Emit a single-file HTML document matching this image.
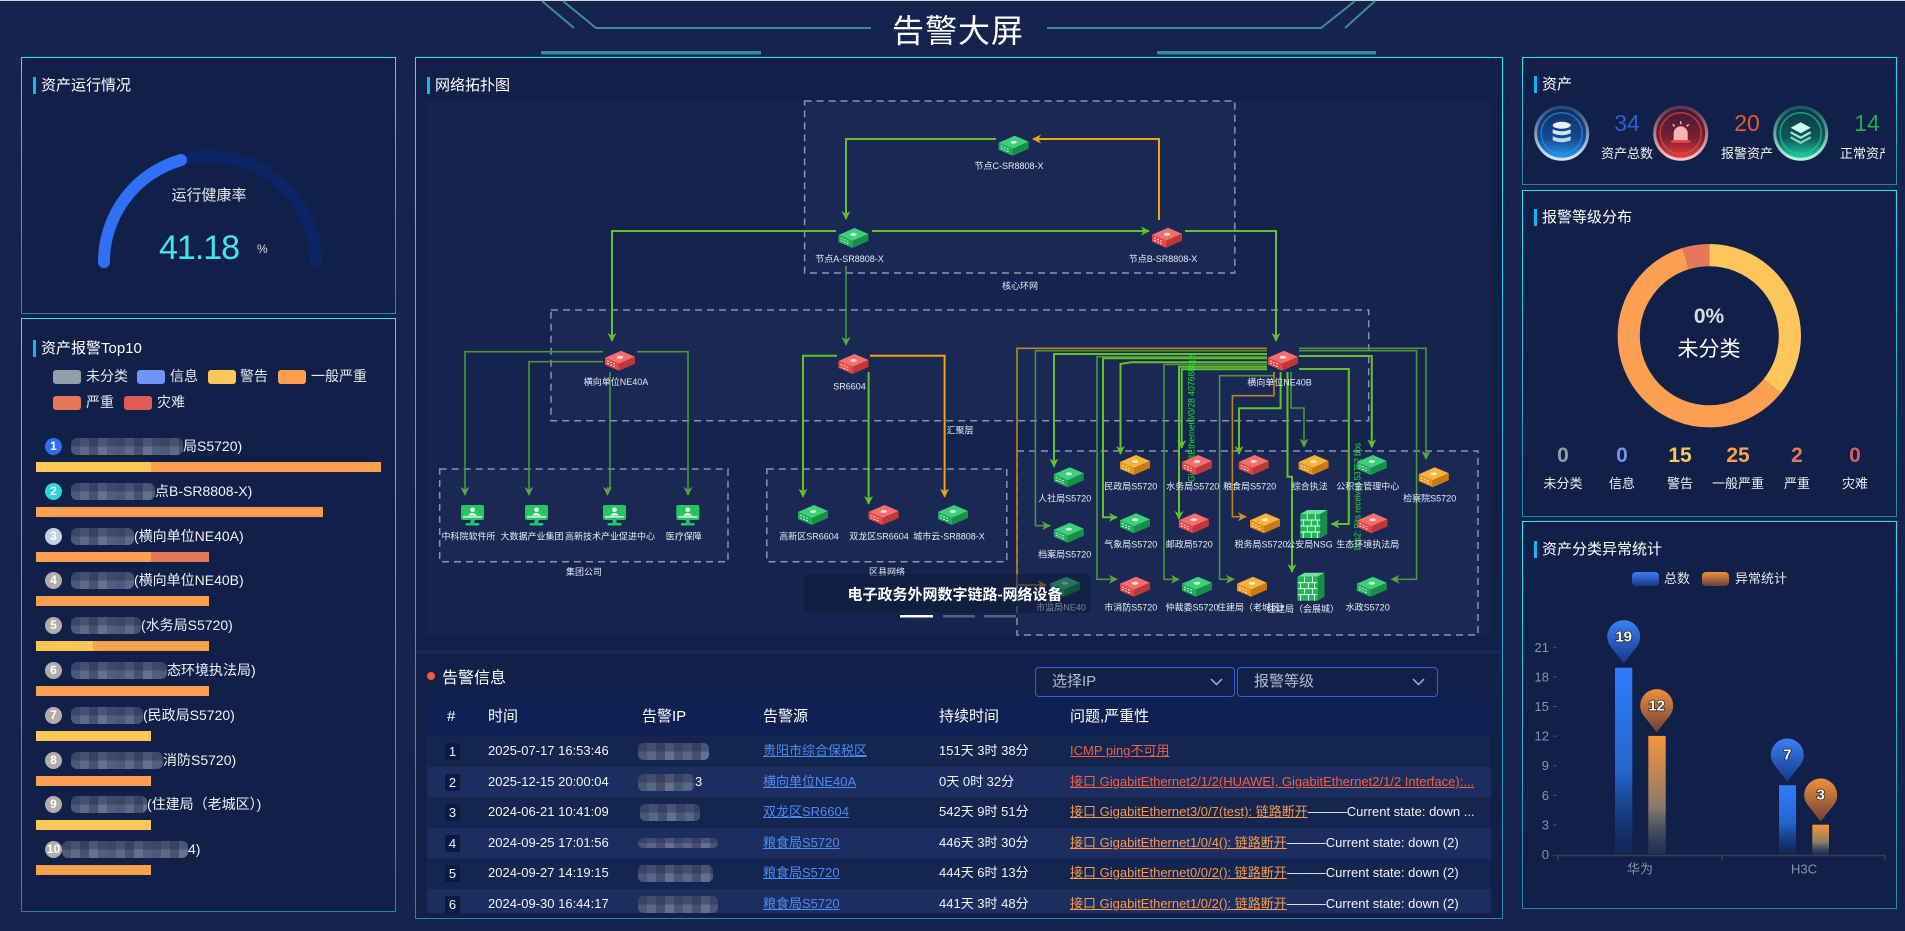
<!DOCTYPE html>
<html><head><meta charset="utf-8"><title>告警大屏</title>
<style>
*{box-sizing:border-box;margin:0;padding:0}
html,body{width:1905px;height:931px;overflow:hidden}
body{background:#14244e;font-family:"Liberation Sans","Noto Sans CJK SC",sans-serif;color:#fff;position:relative}
.a{position:absolute;white-space:nowrap}
.panel{position:absolute;background:#112048;border:1px solid #1fe0ea;border-image:linear-gradient(to bottom,#22e8f0,#2a86a8) 1}
.pt{position:absolute;font-size:15px;line-height:17px;height:17px;padding-left:5px;border-left:3px solid #13b6f4;white-space:nowrap;color:#fff}
.sw{position:absolute;width:28px;height:14px;border-radius:3px}
.lg{position:absolute;font-size:14px;line-height:16px;color:#e4e8f0;white-space:nowrap}
.bd{position:absolute;width:17px;height:17px;border-radius:50%;font-size:12px;font-weight:bold;line-height:17px;text-align:center;color:#fff}
.bl{position:absolute;height:17px;border-radius:6px;background:linear-gradient(to bottom,rgba(25,35,70,.35) 50%,rgba(0,0,0,0) 50%),repeating-linear-gradient(90deg,#4d5979 0 9px,#5e6989 9px 18px,#46526f 18px 27px,#66718f 27px 36px,#525e7e 36px 45px)}
.tl{position:absolute;font-size:14px;line-height:18px;color:#f0f2f6;white-space:nowrap}
.bar{position:absolute;height:10px}
.row{position:absolute;left:427px;width:1064px;height:31px;font-size:13px;line-height:30px;color:#f2f4f8}
.row .c{position:absolute;top:0;white-space:nowrap}
.row .ix{position:absolute;left:18px;top:7px;width:15px;height:17px;line-height:17px;text-align:center;background:#0b1a42;border-radius:2px}
.row .ip{position:absolute;top:7px;height:17px;border-radius:5px;background:linear-gradient(to bottom,rgba(30,40,80,.4) 50%,rgba(0,0,0,0) 50%),repeating-linear-gradient(90deg,#4a5676 0 9px,#5a6686 9px 18px,#44506f 18px 27px,#65708f 27px 36px)}
.lnk{color:#4b8bf5;text-decoration:underline}
.iss{position:absolute;left:643px;top:0;width:410px;overflow:hidden;white-space:nowrap;text-overflow:ellipsis}
.red{color:#ee6242;text-decoration:underline}
.org{color:#f8994c;text-decoration:underline}
.hd{position:absolute;top:0;font-size:15px;line-height:39px;color:#fff}
.st{position:absolute;text-align:center;width:60px}
.stn{font-size:21px;font-weight:bold;line-height:24px}
.stl{font-size:13px;line-height:16px;color:#f0f0f0}
</style></head><body>

<!-- panels -->
<div class="panel" style="left:21px;top:57px;width:375px;height:257px"></div>
<div class="panel" style="left:21px;top:318px;width:375px;height:594px"></div>
<div class="panel" style="left:415px;top:57px;width:1088px;height:862px"></div>
<div class="panel" style="left:1522px;top:57px;width:375px;height:128px"></div>
<div class="panel" style="left:1522px;top:190px;width:375px;height:327px"></div>
<div class="panel" style="left:1522px;top:521px;width:375px;height:388px"></div>
<div class="a" style="left:416px;top:650px;width:1086px;height:4px;background:#182958"></div>

<svg class="a" style="left:0;top:0" width="1905" height="931" viewBox="0 0 1905 931">
<defs>
<marker id="ag" viewBox="0 0 10 10" refX="9" refY="5" markerWidth="9" markerHeight="9" markerUnits="userSpaceOnUse" orient="auto"><path d="M0,0 L10,5 L0,10 L3,5Z" fill="#63c22c"/></marker>
<marker id="ad" viewBox="0 0 10 10" refX="9" refY="5" markerWidth="9" markerHeight="9" markerUnits="userSpaceOnUse" orient="auto"><path d="M0,0 L10,5 L0,10 L3,5Z" fill="#5aa83a"/></marker>
<marker id="ao" viewBox="0 0 10 10" refX="9" refY="5" markerWidth="9" markerHeight="9" markerUnits="userSpaceOnUse" orient="auto"><path d="M0,0 L10,5 L0,10 L3,5Z" fill="#f2a212"/></marker>
<marker id="ab" viewBox="0 0 10 10" refX="9" refY="5" markerWidth="9" markerHeight="9" markerUnits="userSpaceOnUse" orient="auto"><path d="M0,0 L10,5 L0,10 L3,5Z" fill="#d0922c"/></marker>
<g id="rg">
<path d="M-15,-3 L1,-10 L15,-4 L-1,3Z" fill="#3fcf7c"/>
<path d="M-15,-3 L-1,3 L-1,10 L-15,4Z" fill="#22ad5c"/>
<path d="M-1,3 L15,-4 L15,3 L-1,10Z" fill="#178f48"/>
<path d="M-13,0.5h2M-10,1.8h2M-7,3.1h2M-13,3h2M-10,4.3h2M-7,5.6h2" stroke="#e8fff0" stroke-width="0.8"/>
<ellipse cx="0" cy="-3.5" rx="3.2" ry="1.5" fill="#e8fff0" opacity=".85"/>
</g>
<g id="rr">
<path d="M-15,-3 L1,-10 L15,-4 L-1,3Z" fill="#f46e6e"/>
<path d="M-15,-3 L-1,3 L-1,10 L-15,4Z" fill="#e04a4a"/>
<path d="M-1,3 L15,-4 L15,3 L-1,10Z" fill="#bf3838"/>
<path d="M-13,0.5h2M-10,1.8h2M-7,3.1h2M-13,3h2M-10,4.3h2M-7,5.6h2" stroke="#fff0f0" stroke-width="0.8"/>
<ellipse cx="0" cy="-3.5" rx="3.2" ry="1.5" fill="#fff0f0" opacity=".85"/>
</g>
<g id="ro">
<path d="M-15,-3 L1,-10 L15,-4 L-1,3Z" fill="#f8b33c"/>
<path d="M-15,-3 L-1,3 L-1,10 L-15,4Z" fill="#e8941e"/>
<path d="M-1,3 L15,-4 L15,3 L-1,10Z" fill="#c97a12"/>
<path d="M-13,0.5h2M-10,1.8h2M-7,3.1h2M-13,3h2M-10,4.3h2M-7,5.6h2" stroke="#fff6e0" stroke-width="0.8"/>
<ellipse cx="0" cy="-3.5" rx="3.2" ry="1.5" fill="#fff6e0" opacity=".85"/>
</g>
<g id="mon">
<rect x="-11.5" y="0" width="23" height="15" rx="2" fill="#27c462"/>
<circle cx="0" cy="4.8" r="2.3" fill="#fff"/>
<path d="M-4.5,10.5 Q0,5.5 4.5,10.5Z" fill="#fff"/>
<rect x="-9.5" y="11.3" width="19" height="1.2" fill="#fff"/>
<rect x="-2" y="15" width="4" height="3" fill="#27c462"/>
<rect x="-7" y="18" width="14" height="2.5" rx="1" fill="#27c462"/>
</g>
<g id="fw">
<path d="M-13,-10 L-6,-14 L14,-14 L7,-10Z" fill="#6ee49a"/>
<rect x="-13" y="-10" width="20" height="24" fill="#22b85a"/>
<path d="M7,-10 L14,-14 L14,10 L7,14Z" fill="#178f48"/>
<path d="M-13,-4H7M-13,2H7M-13,8H7M-6,-10V-4M2,-10V-4M-10,-4V2M-2,-4V2M4,-4V2M-6,2V8M2,2V8M-10,8V14M-2,8V14M4,8V14" stroke="#eafff0" stroke-width="0.9" fill="none"/>
</g>
<linearGradient id="bbar" x1="0" y1="0" x2="0" y2="1"><stop offset="0" stop-color="#2f7cfb"/><stop offset="0.55" stop-color="#2466cc"/><stop offset="1" stop-color="#10306e" stop-opacity="0.4"/></linearGradient>
<linearGradient id="obar" x1="0" y1="0" x2="0" y2="1"><stop offset="0" stop-color="#f7963a"/><stop offset="0.6" stop-color="#8a7a6a"/><stop offset="1" stop-color="#2c3c62" stop-opacity="0.5"/></linearGradient>
<linearGradient id="bpin" x1="0" y1="0" x2="0" y2="1"><stop offset="0" stop-color="#3a80f2"/><stop offset="1" stop-color="#163888"/></linearGradient>
<linearGradient id="opin" x1="0" y1="0" x2="0" y2="1"><stop offset="0" stop-color="#f0903a"/><stop offset="1" stop-color="#6a4038"/></linearGradient>
<linearGradient id="bIn" x1="0" y1="0" x2="0" y2="1"><stop offset="0" stop-color="#0f2c5c"/><stop offset="0.6" stop-color="#144a90"/><stop offset="1" stop-color="#2aa0f0"/></linearGradient>
<linearGradient id="bRim" x1="0" y1="0" x2="0" y2="1"><stop offset="0" stop-color="#2a4a80"/><stop offset="1" stop-color="#d8e6f6"/></linearGradient>
<linearGradient id="rIn" x1="0" y1="0" x2="0" y2="1"><stop offset="0" stop-color="#3a1a34"/><stop offset="0.6" stop-color="#7a2030"/><stop offset="1" stop-color="#f04040"/></linearGradient>
<linearGradient id="rRim" x1="0" y1="0" x2="0" y2="1"><stop offset="0" stop-color="#6a3450"/><stop offset="1" stop-color="#f4c8c8"/></linearGradient>
<linearGradient id="gIn" x1="0" y1="0" x2="0" y2="1"><stop offset="0" stop-color="#0c3446"/><stop offset="0.6" stop-color="#0f5a58"/><stop offset="1" stop-color="#22d8a8"/></linearGradient>
<linearGradient id="gRim" x1="0" y1="0" x2="0" y2="1"><stop offset="0" stop-color="#1a5a62"/><stop offset="1" stop-color="#b8f4e4"/></linearGradient>
</defs>

<!-- header -->
<line x1="0" y1="0.5" x2="1905" y2="0.5" stroke="#cfd3da" stroke-width="1"/>
<g stroke="#3c8c9e" stroke-width="2" fill="none">
<path d="M542,1 L574,28"/>
<path d="M563,1 L596,28 H871"/>
<path d="M1047,28 H1321 L1355,1"/>
<path d="M1345,28 L1375,1"/>
</g>
<rect x="541" y="51" width="220" height="3.5" fill="#3a8a9c"/>
<rect x="1157" y="51" width="219" height="3.5" fill="#3a8a9c"/>

<!-- gauge -->
<path d="M104,262 A106,106 0 0 1 316,262" fill="none" stroke="#0b2463" stroke-width="12" stroke-linecap="round"/>
<path d="M104,262 A106,106 0 0 1 181,160.05" fill="none" stroke="#2f70f4" stroke-width="12" stroke-linecap="round"/>

<!-- topology -->
<rect x="427" y="101" width="1064" height="535" fill="#14244f"/>
<g fill="#192954" stroke="#8a94a8" stroke-width="1.5" stroke-dasharray="7 5">
<rect x="804.6" y="101" width="430.2" height="172"/>
<rect x="551" y="310" width="817.7" height="110.7"/>
<rect x="439.7" y="469" width="288.3" height="92.7"/>
<rect x="766.8" y="469" width="240" height="92.7"/>
<rect x="1017" y="451" width="461" height="184"/>
</g>

<g fill="none">
<g stroke="#63c22c" stroke-width="2" marker-end="url(#ag)">
<path d="M996,139 H846 V219"/>
<path d="M872,231 H1149"/>
<path d="M836,231 H612 V341"/>
<path d="M1185,231 H1276 V341"/>
<path d="M837,355.7 H803 V496.7"/>
<path d="M868.6,372 V504"/>
<path d="M1267,354 H1054 V466.7"/>
<path d="M1267,358.3 H1103 V517.3 H1117"/>
<path d="M1267,362.3 H1131.5 L1120.5,364 V454"/>
<path d="M1267,366.7 H1179 V519"/>
<path d="M1267,369.3 H1181.7 V448"/>
<path d="M1280.6,372 V408.3 H1239 V454"/>
<path d="M1287.5,372 V476.7 H1292 V572"/>
<path d="M1299,356 H1371.8 V447.3"/>
<path d="M1299,369 H1348.8 V524 H1331.5"/>
</g>
<g stroke="#4f933c" stroke-width="1.6" marker-end="url(#ad)">
<path d="M846,266 V345" stroke="#5aa83a" stroke-width="1.3"/>
<path d="M603,351.7 H465 V495"/>
<path d="M603,361.7 H529 V495"/>
<path d="M610,372 V488 H607.5 V495"/>
<path d="M637,351.7 H688 V495"/>
<path d="M1267,350.7 H1035.4 V525.7 H1050"/>
<path d="M1267,356.7 H1097 V579.3 H1117"/>
<path d="M1267,364.5 H1164 V579.3 H1179"/>
<path d="M1274,372 V375.7 H1219.6 V579.3 H1234"/>
<path d="M1291,372 V408 H1304 V446.7"/>
<path d="M1299,348.3 H1426 V459"/>
<path d="M1299,350.7 H1416.6 V579.3 H1391.5"/>
</g>
<g stroke="#f2a212" stroke-width="2" marker-end="url(#ao)">
<path d="M1159,220 V139 H1033"/>
<path d="M870,355.7 H944.6 V496.7"/>
</g>
<g stroke="#b8842c" stroke-width="1.6" marker-end="url(#ab)">
<path d="M1267,348.3 H1017 V585 H1046"/>
<path d="M1274,372 V395.7 H1232.4 V516.7 H1246"/>
</g>
</g>

<g font-family="Liberation Sans, Noto Sans CJK SC, sans-serif" font-size="9" fill="#1ee81e">
<text transform="translate(1194.5,482) rotate(-90)" textLength="129" lengthAdjust="spacingAndGlyphs">GigabitEthernet0/0/28 407688bps</text>
<text transform="translate(1360.5,550) rotate(-90)" textLength="107" lengthAdjust="spacingAndGlyphs">bps2: Bits received 53752 bps</text>
</g>

<!-- devices -->
<use href="#rg" x="1013.7" y="145.7"/>
<use href="#rg" x="853.5" y="238"/>
<use href="#rr" x="1167" y="237.7"/>
<use href="#rr" x="620" y="360.7"/>
<use href="#rr" x="853.5" y="364"/>
<use href="#rr" x="1283" y="360.7"/>
<use href="#rg" x="813" y="515"/>
<use href="#rr" x="883.6" y="515"/>
<use href="#rg" x="953" y="515"/>
<use href="#mon" x="472.5" y="505"/>
<use href="#mon" x="536.5" y="505"/>
<use href="#mon" x="614.5" y="505"/>
<use href="#mon" x="687.8" y="505"/>
<use href="#ro" x="1135" y="465"/>
<use href="#rr" x="1197" y="465"/>
<use href="#rr" x="1253.7" y="465"/>
<use href="#ro" x="1313.6" y="465"/>
<use href="#rg" x="1371.8" y="465"/>
<use href="#rg" x="1068.8" y="477.3"/>
<use href="#ro" x="1433.8" y="477.3"/>
<use href="#rg" x="1068.8" y="532.7"/>
<use href="#rg" x="1135" y="523.3"/>
<use href="#rr" x="1193.8" y="523.3"/>
<use href="#ro" x="1265" y="523.3"/>
<use href="#fw" x="1313.3" y="524"/>
<use href="#rr" x="1372.5" y="523.3"/>
<use href="#rg" x="1065" y="586.7"/>
<use href="#rr" x="1135" y="586.7"/>
<use href="#rg" x="1197" y="586.7"/>
<use href="#ro" x="1252" y="586.7"/>
<use href="#fw" x="1310.5" y="586.7"/>
<use href="#rg" x="1371.8" y="586.7"/>

<g font-family="Liberation Sans, Noto Sans CJK SC, sans-serif" font-size="9" fill="#e6ecf5" text-anchor="middle" dominant-baseline="central">
<text x="1009" y="166">节点C-SR8808-X</text>
<text x="849.5" y="259">节点A-SR8808-X</text>
<text x="1163" y="259">节点B-SR8808-X</text>
<text x="1020" y="286">核心环网</text>
<text x="616" y="382">横向单位NE40A</text>
<text x="849.5" y="386.7">SR6604</text>
<text x="1279.5" y="382.7">横向单位NE40B</text>
<text x="960" y="430.7">汇聚层</text>
<text x="468.5" y="536.7">中科院软件所</text>
<text x="532" y="536.7">大数据产业集团</text>
<text x="610" y="536.7">高新技术产业促进中心</text>
<text x="683.8" y="536.7">医疗保障</text>
<text x="584" y="572">集团公司</text>
<text x="809" y="536.7">高新区SR6604</text>
<text x="879" y="536.7">双龙区SR6604</text>
<text x="949" y="536.7">城市云-SR8808-X</text>
<text x="887" y="572">区县网络</text>
<text x="1130.8" y="486.7">民政局S5720</text>
<text x="1192.8" y="486.7">水务局S5720</text>
<text x="1249.6" y="486.7">粮食局S5720</text>
<text x="1309.8" y="486.7">综合执法</text>
<text x="1367.7" y="486.7">公积金管理中心</text>
<text x="1064.7" y="498.7">人社局S5720</text>
<text x="1429.7" y="498.7">检察院S5720</text>
<text x="1064.7" y="554.7">档案局S5720</text>
<text x="1130.8" y="544.7">气象局S5720</text>
<text x="1189.3" y="544.7">邮政局5720</text>
<text x="1261" y="544.7">税务局S5720</text>
<text x="1309.5" y="544.7">公安局NSG</text>
<text x="1367.7" y="544.7">生态环境执法局</text>
<text x="1061" y="607.7">市监局NE40</text>
<text x="1130.8" y="607.7">市消防S5720</text>
<text x="1192" y="607.7">仲裁委S5720</text>
<text x="1253" y="607.7">住建局（老城区）</text>
<text x="1303" y="609">住建局（会展城）</text>
<text x="1367.7" y="607.7">水政S5720</text>
</g>

<!-- banner -->
<rect x="804" y="574" width="286" height="39" rx="4" fill="#0c1836" fill-opacity="0.5"/>
<text x="847.5" y="595" font-family="Liberation Sans, Noto Sans CJK SC, sans-serif" font-size="15" font-weight="bold" fill="#ffffff" dominant-baseline="central">电子政务外网数字链路-网络设备</text>
<rect x="900" y="615" width="33" height="2.5" fill="#ffffff"/>
<rect x="943" y="615" width="32" height="2.5" fill="#56627e"/>
<rect x="984" y="615" width="32" height="2.5" fill="#56627e"/>

<!-- dropdown chevrons -->
<polyline points="1211,679 1216.5,684.5 1222,679" fill="none" stroke="#a8b2c4" stroke-width="1.5"/>
<polyline points="1413,679 1418.5,684.5 1424,679" fill="none" stroke="#a8b2c4" stroke-width="1.5"/>

<!-- asset icons -->
<g transform="translate(1561.7,133.3)">
<circle r="26" fill="url(#bIn)" stroke="url(#bRim)" stroke-width="3"/>
<circle r="20.5" fill="none" stroke="#2b8ee8" stroke-width="1.5" opacity=".7"/>
<ellipse cx="0" cy="-8" rx="9" ry="3.5" fill="#e6f2ff"/>
<path d="M-9,-4 Q0,0 9,-4 V0 Q0,4 -9,0Z" fill="#cfe4fa"/>
<path d="M-9,3 Q0,7 9,3 V7 Q0,11 -9,7Z" fill="#b8d6f4"/>
</g>
<g transform="translate(1680.7,133.3)">
<circle r="26" fill="url(#rIn)" stroke="url(#rRim)" stroke-width="3"/>
<circle r="20.5" fill="none" stroke="#e84848" stroke-width="1.5" opacity=".7"/>
<path d="M-7,7 V0 A7,7 0 0 1 7,0 V7Z" fill="#f8b4b4"/>
<rect x="-9.5" y="7" width="19" height="2.5" fill="#f04444"/>
<path d="M0,-12V-9M-8,-9L-6,-7M8,-9L6,-7" stroke="#f8b4b4" stroke-width="1.5"/>
</g>
<g transform="translate(1800.7,133.3)">
<circle r="26" fill="url(#gIn)" stroke="url(#gRim)" stroke-width="3"/>
<circle r="20.5" fill="none" stroke="#20c8a0" stroke-width="1.5" opacity=".7"/>
<path d="M0,-11 L10,-5.5 L0,0 L-10,-5.5Z" fill="#d0faee"/>
<path d="M-10,-1 L0,4.5 L10,-1" fill="none" stroke="#a8ecd8" stroke-width="2.2"/>
<path d="M-10,4 L0,9.5 L10,4" fill="none" stroke="#88dcc4" stroke-width="2.2"/>
</g>

<!-- donut -->
<g transform="rotate(-90 1709.3 335.7)" fill="none" stroke-width="22.2">
<circle cx="1709.3" cy="335.7" r="80.6" stroke="#fec65a" stroke-dasharray="180.86 506.42"/>
<circle cx="1709.3" cy="335.7" r="80.6" stroke="#fd9f52" stroke-dasharray="301.44 506.42" stroke-dashoffset="-180.86"/>
<circle cx="1709.3" cy="335.7" r="80.6" stroke="#e5785a" stroke-dasharray="24.12 506.42" stroke-dashoffset="-482.3"/>
</g>

<!-- bar chart -->
<rect x="1632" y="572" width="27" height="14" rx="4" fill="url(#bpin)"/>
<rect x="1702" y="572" width="27" height="14" rx="4" fill="url(#opin)"/>
<g font-family="Liberation Sans, Noto Sans CJK SC, sans-serif" font-size="13" fill="#8a93a8" text-anchor="end" dominant-baseline="central">
<text x="1549" y="647.3">21</text>
<text x="1549" y="676.9">18</text>
<text x="1549" y="706.5">15</text>
<text x="1549" y="736.1">12</text>
<text x="1549" y="765.7">9</text>
<text x="1549" y="795.3">6</text>
<text x="1549" y="824.9">3</text>
<text x="1549" y="854.3">0</text>
</g>
<g stroke="#4a5064" stroke-width="1">
<path d="M1553,647.3h4M1553,676.9h4M1553,706.5h4M1553,736.1h4M1553,765.7h4M1553,795.3h4M1553,824.9h4"/>
</g>
<path d="M1553,855.5 H1885 M1558,855.5 V860 M1722,855.5 V860 M1885,855.5 V860" stroke="#3a3f4c" stroke-width="1.5"/>
<g font-family="Liberation Sans, Noto Sans CJK SC, sans-serif" font-size="13" fill="#8a93a8" text-anchor="middle" dominant-baseline="central">
<text x="1640" y="869">华为</text>
<text x="1804" y="869">H3C</text>
</g>
<rect x="1615" y="667.7" width="17.3" height="186.6" fill="url(#bbar)"/>
<rect x="1648.3" y="735.9" width="17.4" height="118.4" fill="url(#obar)"/>
<rect x="1779" y="785.2" width="17" height="69.1" fill="url(#bbar)"/>
<rect x="1812.3" y="824.7" width="16.7" height="29.6" fill="url(#obar)"/>
<path d="M1623.7,663.3 L1611.7,648 A16.5,16.5 0 1 1 1635.7,648Z" fill="url(#bpin)"/>
<path d="M1656.7,732.3 L1644.7,717 A16.5,16.5 0 1 1 1668.7,717Z" fill="url(#opin)"/>
<path d="M1787.3,781.6 L1775.3,766.3 A16.5,16.5 0 1 1 1799.3,766.3Z" fill="url(#bpin)"/>
<path d="M1820.7,821.6 L1808.7,806.3 A16.5,16.5 0 1 1 1832.7,806.3Z" fill="url(#opin)"/>
<g font-family="Liberation Sans, sans-serif" font-size="15" font-weight="bold" fill="#f4f4f4" stroke="#2a2a2a" stroke-width="1.6" paint-order="stroke" text-anchor="middle" dominant-baseline="central">
<text x="1623.7" y="637">19</text>
<text x="1656.7" y="706">12</text>
<text x="1787.3" y="755">7</text>
<text x="1820.7" y="795">3</text>
</g>
</svg>

<!-- header title -->
<div class="a" style="left:858px;top:13px;width:200px;text-align:center;font-size:32px;line-height:36px;letter-spacing:1px;color:#fff">告警大屏</div>

<!-- panel titles -->
<div class="pt" style="left:33px;top:77px">资产运行情况</div>
<div class="pt" style="left:33px;top:340px">资产报警Top10</div>
<div class="pt" style="left:427px;top:77px">网络拓扑图</div>
<div class="pt" style="left:1534px;top:76px">资产</div>
<div class="pt" style="left:1534px;top:209px">报警等级分布</div>
<div class="pt" style="left:1534px;top:541px">资产分类异常统计</div>

<!-- gauge text -->
<div class="a" style="left:149px;top:187px;width:120px;text-align:center;font-size:15px;line-height:18px;color:#e6e6e6">运行健康率</div>
<div class="a" style="left:159px;top:229px;font-size:34px;line-height:38px;letter-spacing:-1px;color:#41e6ee">41.18</div>
<div class="a" style="left:257px;top:241px;font-size:12px;line-height:16px;color:#dddddd">%</div>

<!-- top10 legend -->
<div class="sw" style="left:53px;top:370px;background:#91a0a8"></div><div class="lg" style="left:86px;top:368px">未分类</div>
<div class="sw" style="left:137px;top:370px;background:#6e94f5"></div><div class="lg" style="left:170px;top:368px">信息</div>
<div class="sw" style="left:208px;top:370px;background:#fdc656"></div><div class="lg" style="left:240px;top:368px">警告</div>
<div class="sw" style="left:278px;top:370px;background:#fe9f50"></div><div class="lg" style="left:311px;top:368px">一般严重</div>
<div class="sw" style="left:53px;top:396px;background:#e8775a"></div><div class="lg" style="left:86px;top:394px">严重</div>
<div class="sw" style="left:124px;top:396px;background:#e05a5a"></div><div class="lg" style="left:157px;top:394px">灾难</div>

<!-- top10 items -->
<div class="bd" style="left:45px;top:438px;background:#2f6df0">1</div>
<div class="bl" style="left:71px;top:438px;width:112px"></div><div class="tl" style="left:183px;top:437px">局S5720)</div>
<div class="bar" style="left:36px;top:462px;width:115px;background:#fdc656"></div><div class="bar" style="left:151px;top:462px;width:230px;background:#fe9f50"></div>

<div class="bd" style="left:45px;top:483px;background:#2dd4d8">2</div>
<div class="bl" style="left:71px;top:483px;width:84px"></div><div class="tl" style="left:155px;top:482px">点B-SR8808-X)</div>
<div class="bar" style="left:36px;top:507px;width:287px;background:#fe9f50"></div>

<div class="bd" style="left:45px;top:528px;background:#c5d0e0">3</div>
<div class="bl" style="left:71px;top:528px;width:63px"></div><div class="tl" style="left:134px;top:527px">(横向单位NE40A)</div>
<div class="bar" style="left:36px;top:552px;width:115px;background:#fe9f50"></div><div class="bar" style="left:151px;top:552px;width:58px;background:#e8775a"></div>

<div class="bd" style="left:45px;top:572px;background:#b3aca8">4</div>
<div class="bl" style="left:71px;top:572px;width:63px"></div><div class="tl" style="left:134px;top:571px">(横向单位NE40B)</div>
<div class="bar" style="left:36px;top:596px;width:173px;background:#fe9f50"></div>

<div class="bd" style="left:45px;top:617px;background:#b3aca8">5</div>
<div class="bl" style="left:71px;top:617px;width:70px"></div><div class="tl" style="left:141px;top:616px">(水务局S5720)</div>
<div class="bar" style="left:36px;top:641px;width:57px;background:#fdc656"></div><div class="bar" style="left:93px;top:641px;width:116px;background:#fe9f50"></div>

<div class="bd" style="left:45px;top:662px;background:#b3aca8">6</div>
<div class="bl" style="left:71px;top:662px;width:96px"></div><div class="tl" style="left:167px;top:661px">态环境执法局)</div>
<div class="bar" style="left:36px;top:686px;width:173px;background:#fe9f50"></div>

<div class="bd" style="left:45px;top:707px;background:#b3aca8">7</div>
<div class="bl" style="left:71px;top:707px;width:72px"></div><div class="tl" style="left:143px;top:706px">(民政局S5720)</div>
<div class="bar" style="left:36px;top:731px;width:115px;background:#fdc656"></div>

<div class="bd" style="left:45px;top:752px;background:#b3aca8">8</div>
<div class="bl" style="left:71px;top:752px;width:92px"></div><div class="tl" style="left:163px;top:751px">消防S5720)</div>
<div class="bar" style="left:36px;top:776px;width:115px;background:#fe9f50"></div>

<div class="bd" style="left:45px;top:796px;background:#b3aca8">9</div>
<div class="bl" style="left:71px;top:796px;width:76px"></div><div class="tl" style="left:147px;top:795px">(住建局（老城区）)</div>
<div class="bar" style="left:36px;top:820px;width:115px;background:#fdc656"></div>

<div class="bd" style="left:45px;top:841px;background:#b3aca8">10</div>
<div class="bl" style="left:62px;top:841px;width:126px"></div><div class="tl" style="left:188px;top:840px">4)</div>
<div class="bar" style="left:36px;top:865px;width:115px;background:#fe9f50"></div>

<!-- alarm info -->
<div class="a" style="left:427px;top:672px;width:8px;height:8px;border-radius:50%;background:#f25b37"></div>
<div class="a" style="left:442px;top:670px;font-size:16px;line-height:18px;color:#fff">告警信息</div>
<div class="a" style="left:1035px;top:667px;width:200px;height:30px;border:1px solid #2d5fe0;border-radius:4px"></div>
<div class="a" style="left:1052px;top:667px;font-size:15px;line-height:30px;color:#b4bccb">选择IP</div>
<div class="a" style="left:1237px;top:667px;width:201px;height:30px;border:1px solid #2d5fe0;border-radius:4px"></div>
<div class="a" style="left:1254px;top:667px;font-size:15px;line-height:30px;color:#b4bccb">报警等级</div>

<div class="a" style="left:427px;top:697px;width:1064px;height:216px;overflow:hidden">
<div class="a" style="left:0;top:0;width:1064px;height:39px;background:#0f2052">
<div class="hd" style="left:20px">#</div>
<div class="hd" style="left:61px">时间</div>
<div class="hd" style="left:215px">告警IP</div>
<div class="hd" style="left:336px">告警源</div>
<div class="hd" style="left:512px">持续时间</div>
<div class="hd" style="left:643px">问题,严重性</div>
</div>
</div>

<div class="a" style="left:0;top:0;width:1905px;height:913px;overflow:hidden">
<div class="row" style="top:736px;background:#142550">
<div class="ix">1</div><div class="c" style="left:61px">2025-07-17 16:53:46</div>
<div class="ip" style="left:211px;width:71px"></div>
<div class="c lnk" style="left:336px">贵阳市综合保税区</div>
<div class="c" style="left:512px">151天 3时 38分</div>
<div class="iss"><span class="red">ICMP ping不可用</span></div>
</div>
<div class="row" style="top:767px;background:#1c2e5f">
<div class="ix">2</div><div class="c" style="left:61px">2025-12-15 20:00:04</div>
<div class="ip" style="left:211px;width:56px"></div><div class="c" style="left:268px">3</div>
<div class="c lnk" style="left:336px">横向单位NE40A</div>
<div class="c" style="left:512px">0天 0时 32分</div>
<div class="iss"><span class="red">接口 GigabitEthernet2/1/2(HUAWEI, GigabitEthernet2/1/2 Interface):...</span></div>
</div>
<div class="row" style="top:797px;background:#142550">
<div class="ix">3</div><div class="c" style="left:61px">2024-06-21 10:41:09</div>
<div class="ip" style="left:213px;width:60px"></div>
<div class="c lnk" style="left:336px">双龙区SR6604</div>
<div class="c" style="left:512px">542天 9时 51分</div>
<div class="iss"><span class="org">接口 GigabitEthernet3/0/7(test): 链路断开</span>———Current state: down ...</div>
</div>
<div class="row" style="top:828px;background:#1c2e5f">
<div class="ix">4</div><div class="c" style="left:61px">2024-09-25 17:01:56</div>
<div class="ip" style="left:211px;width:80px;top:10px;height:10px"></div>
<div class="c lnk" style="left:336px">粮食局S5720</div>
<div class="c" style="left:512px">446天 3时 30分</div>
<div class="iss"><span class="org">接口 GigabitEthernet1/0/4(): 链路断开</span>———Current state: down (2)</div>
</div>
<div class="row" style="top:858px;background:#142550">
<div class="ix">5</div><div class="c" style="left:61px">2024-09-27 14:19:15</div>
<div class="ip" style="left:211px;width:75px"></div>
<div class="c lnk" style="left:336px">粮食局S5720</div>
<div class="c" style="left:512px">444天 6时 13分</div>
<div class="iss"><span class="org">接口 GigabitEthernet0/0/2(): 链路断开</span>———Current state: down (2)</div>
</div>
<div class="row" style="top:889px;background:#1c2e5f">
<div class="ix">6</div><div class="c" style="left:61px">2024-09-30 16:44:17</div>
<div class="ip" style="left:211px;width:80px"></div>
<div class="c lnk" style="left:336px">粮食局S5720</div>
<div class="c" style="left:512px">441天 3时 48分</div>
<div class="iss"><span class="org">接口 GigabitEthernet1/0/2(): 链路断开</span>———Current state: down (2)</div>
</div>
</div>

<!-- asset numbers -->
<div class="a" style="left:1597px;top:110px;width:60px;text-align:center;font-size:23px;line-height:26px;color:#2c5fdc">34</div>
<div class="a" style="left:1717px;top:110px;width:60px;text-align:center;font-size:23px;line-height:26px;color:#e55a36">20</div>
<div class="a" style="left:1837px;top:110px;width:60px;text-align:center;font-size:23px;line-height:26px;color:#22a858">14</div>
<div class="a" style="left:1597px;top:146px;width:60px;text-align:center;font-size:13px;line-height:16px;color:#f2f2f2">资产总数</div>
<div class="a" style="left:1717px;top:146px;width:60px;text-align:center;font-size:13px;line-height:16px;color:#f2f2f2">报警资产</div>
<div class="a" style="left:1840px;top:146px;width:45px;overflow:hidden;font-size:13px;line-height:16px;color:#f2f2f2">正常资产</div>

<!-- donut text -->
<div class="a" style="left:1659px;top:305px;width:100px;text-align:center;font-size:21px;font-weight:bold;line-height:24px;color:#d8dce6">0%</div>
<div class="a" style="left:1649px;top:338px;width:120px;text-align:center;font-size:21px;line-height:24px;color:#ffffff">未分类</div>

<!-- donut stats -->
<div class="st" style="left:1533px;top:444px"><div class="stn" style="color:#91a0a8">0</div></div>
<div class="st" style="left:1592px;top:444px"><div class="stn" style="color:#6e94f5">0</div></div>
<div class="st" style="left:1650px;top:444px"><div class="stn" style="color:#fdc656">15</div></div>
<div class="st" style="left:1708px;top:444px"><div class="stn" style="color:#fe9f50">25</div></div>
<div class="st" style="left:1767px;top:444px"><div class="stn" style="color:#e8775a">2</div></div>
<div class="st" style="left:1825px;top:444px"><div class="stn" style="color:#e05a5a">0</div></div>
<div class="st" style="left:1533px;top:476px"><div class="stl">未分类</div></div>
<div class="st" style="left:1592px;top:476px"><div class="stl">信息</div></div>
<div class="st" style="left:1650px;top:476px"><div class="stl">警告</div></div>
<div class="st" style="left:1708px;top:476px"><div class="stl">一般严重</div></div>
<div class="st" style="left:1767px;top:476px"><div class="stl">严重</div></div>
<div class="st" style="left:1825px;top:476px"><div class="stl">灾难</div></div>

<!-- chart legend text -->
<div class="a" style="left:1664px;top:570px;font-size:13px;line-height:17px;color:#e8e8e8">总数</div>
<div class="a" style="left:1735px;top:570px;font-size:13px;line-height:17px;color:#e8e8e8">异常统计</div>

</body></html>
